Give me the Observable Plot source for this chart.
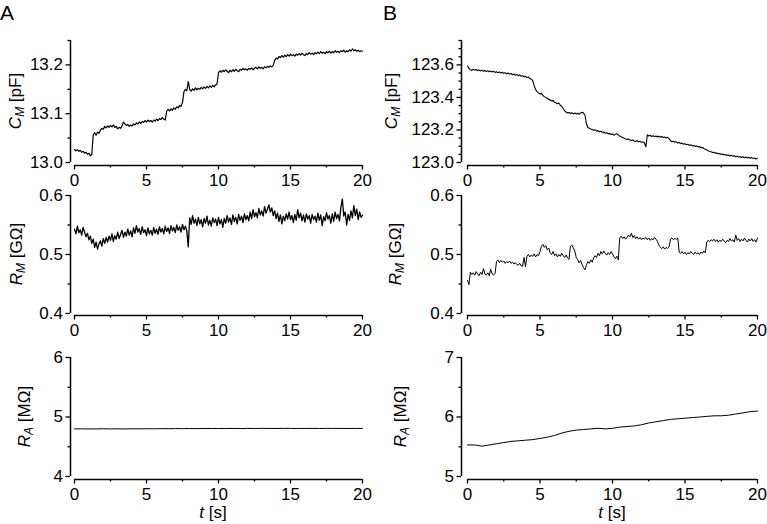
<!DOCTYPE html>
<html><head><meta charset="utf-8">
<script src="https://cdn.jsdelivr.net/npm/d3@7"></script>
<script src="https://cdn.jsdelivr.net/npm/@observablehq/plot@0.6"></script>
<style>
body{margin:0;background:#fff;font-family:"Liberation Sans",Arial,sans-serif;}
#fig{position:relative;width:767px;height:524px;overflow:hidden;background:#fff;}
#fig svg{position:absolute;overflow:visible;}
</style></head><body><div id="fig"></div>
<script>
// sampling intervals (s)
const dtFine = 0.1, dtCoarse = 0.5;

// Panel A – membrane capacitance C_M [pF]
const cmA = [13.027,13.024,13.026,13.023,13.025,13.021,13.023,13.019,13.021,13.017,13.019,13.014,13.016,13.057,13.061,13.056,13.062,13.060,13.066,13.070,
13.068,13.074,13.071,13.075,13.072,13.076,13.073,13.077,13.072,13.074,13.069,13.072,13.070,13.075,13.083,13.079,13.076,13.078,13.074,13.077,
13.075,13.079,13.077,13.081,13.079,13.083,13.080,13.084,13.082,13.086,13.083,13.087,13.084,13.086,13.083,13.087,13.085,13.089,13.086,13.090,
13.088,13.092,13.089,13.087,13.105,13.109,13.106,13.110,13.107,13.112,13.109,13.114,13.112,13.117,13.115,13.123,13.145,13.150,13.147,13.166,
13.150,13.146,13.151,13.148,13.153,13.149,13.152,13.150,13.154,13.151,13.155,13.152,13.156,13.153,13.157,13.154,13.158,13.155,13.159,13.161,
13.184,13.188,13.185,13.189,13.186,13.190,13.187,13.184,13.189,13.186,13.190,13.187,13.191,13.188,13.186,13.191,13.189,13.193,13.190,13.192,
13.189,13.193,13.191,13.194,13.190,13.193,13.195,13.192,13.196,13.193,13.195,13.192,13.196,13.194,13.197,13.195,13.198,13.196,13.199,13.209,
13.214,13.212,13.217,13.215,13.219,13.216,13.220,13.217,13.221,13.218,13.222,13.219,13.221,13.218,13.222,13.220,13.223,13.220,13.224,13.221,
13.219,13.223,13.221,13.225,13.222,13.224,13.221,13.225,13.223,13.226,13.223,13.227,13.224,13.226,13.223,13.227,13.225,13.228,13.224,13.227,
13.225,13.229,13.226,13.228,13.225,13.229,13.227,13.230,13.226,13.229,13.227,13.231,13.228,13.233,13.229,13.231,13.228,13.230,13.227,13.229,
13.228];

// Panel B – membrane capacitance C_M [pF]
const cmB = [123.594,123.578,123.571,123.566,123.573,123.568,123.572,123.565,123.569,123.563,123.568,123.561,123.566,123.559,123.564,123.558,123.562,123.556,123.561,123.554,
123.558,123.552,123.557,123.550,123.555,123.548,123.552,123.545,123.550,123.543,123.547,123.540,123.544,123.537,123.541,123.534,123.538,123.530,123.534,123.526,
123.530,123.522,123.525,123.516,123.512,123.503,123.472,123.448,123.436,123.428,123.421,123.425,123.412,123.405,123.399,123.395,123.388,123.385,123.378,123.382,
123.370,123.367,123.361,123.366,123.352,123.345,123.332,123.318,123.310,123.304,123.308,123.301,123.306,123.299,123.304,123.298,123.303,123.297,123.305,123.309,
123.304,123.292,123.238,123.215,123.211,123.206,123.203,123.198,123.201,123.193,123.196,123.189,123.192,123.185,123.188,123.180,123.183,123.176,123.179,123.172,
123.175,123.168,123.173,123.177,123.170,123.163,123.158,123.153,123.149,123.144,123.141,123.145,123.138,123.135,123.139,123.132,123.130,123.134,123.127,123.131,
123.124,123.127,123.120,123.096,123.170,123.163,123.167,123.160,123.165,123.159,123.163,123.157,123.162,123.155,123.160,123.154,123.157,123.151,123.155,123.147,
123.134,123.128,123.131,123.124,123.127,123.120,123.123,123.116,123.119,123.112,123.115,123.109,123.112,123.105,123.109,123.102,123.105,123.099,123.102,123.096,
123.098,123.091,123.093,123.086,123.082,123.077,123.073,123.068,123.066,123.061,123.063,123.057,123.059,123.053,123.055,123.049,123.052,123.046,123.049,123.043,
123.046,123.040,123.044,123.038,123.041,123.035,123.039,123.033,123.037,123.031,123.035,123.029,123.034,123.028,123.032,123.026,123.030,123.024,123.028,123.022,
123.026];

// Panel A – membrane resistance R_M [GΩ]
const rmA = [0.543,0.535,0.548,0.537,0.542,0.533,0.546,0.538,0.530,0.536,0.525,0.531,0.519,0.526,0.512,0.521,0.509,0.518,0.523,0.514,
0.527,0.519,0.529,0.521,0.531,0.524,0.535,0.522,0.532,0.526,0.538,0.527,0.534,0.541,0.529,0.538,0.531,0.543,0.533,0.540,
0.530,0.545,0.536,0.549,0.538,0.544,0.534,0.547,0.537,0.542,0.532,0.545,0.535,0.541,0.533,0.546,0.536,0.543,0.534,0.547,
0.538,0.544,0.535,0.548,0.539,0.545,0.536,0.549,0.540,0.546,0.537,0.550,0.541,0.547,0.538,0.551,0.542,0.548,0.540,0.513,
0.562,0.551,0.566,0.553,0.560,0.549,0.563,0.552,0.559,0.547,0.561,0.553,0.565,0.550,0.558,0.548,0.562,0.554,0.560,0.549,
0.563,0.552,0.559,0.546,0.561,0.553,0.566,0.555,0.562,0.551,0.567,0.556,0.563,0.552,0.568,0.558,0.565,0.554,0.569,0.559,
0.566,0.557,0.572,0.561,0.576,0.564,0.571,0.562,0.578,0.567,0.574,0.565,0.581,0.570,0.577,0.584,0.572,0.579,0.566,0.574,
0.561,0.570,0.556,0.567,0.552,0.565,0.557,0.569,0.560,0.572,0.559,0.566,0.554,0.568,0.558,0.576,0.562,0.570,0.557,0.567,
0.555,0.569,0.560,0.566,0.553,0.568,0.559,0.565,0.555,0.570,0.558,0.567,0.549,0.564,0.557,0.571,0.560,0.566,0.553,0.569,
0.556,0.572,0.561,0.568,0.557,0.580,0.594,0.565,0.572,0.550,0.568,0.558,0.574,0.562,0.583,0.566,0.577,0.559,0.572,0.563,
0.567];

// Panel B – membrane resistance R_M [GΩ]
const rmB = [0.456,0.449,0.470,0.466,0.469,0.465,0.471,0.467,0.464,0.470,0.466,0.476,0.467,0.465,0.469,0.464,0.475,0.467,0.465,0.468,
0.488,0.491,0.486,0.490,0.487,0.489,0.485,0.488,0.486,0.489,0.485,0.487,0.484,0.486,0.483,0.482,0.485,0.481,0.480,0.495,
0.479,0.497,0.500,0.496,0.499,0.497,0.501,0.496,0.500,0.498,0.505,0.514,0.517,0.512,0.515,0.508,0.511,0.503,0.500,0.505,
0.498,0.501,0.496,0.500,0.497,0.502,0.498,0.495,0.499,0.494,0.492,0.514,0.516,0.511,0.506,0.495,0.491,0.486,0.490,0.483,
0.478,0.474,0.482,0.488,0.485,0.491,0.487,0.494,0.498,0.495,0.502,0.498,0.505,0.501,0.506,0.502,0.499,0.503,0.500,0.505,
0.501,0.496,0.493,0.497,0.491,0.528,0.531,0.527,0.530,0.526,0.529,0.533,0.530,0.536,0.529,0.532,0.527,0.530,0.526,0.529,
0.525,0.528,0.526,0.529,0.525,0.528,0.524,0.527,0.525,0.529,0.526,0.522,0.516,0.512,0.510,0.513,0.509,0.512,0.510,0.513,
0.526,0.528,0.525,0.527,0.526,0.528,0.504,0.502,0.505,0.501,0.504,0.500,0.503,0.501,0.505,0.502,0.500,0.504,0.501,0.503,
0.500,0.504,0.502,0.506,0.503,0.521,0.524,0.522,0.525,0.523,0.526,0.522,0.525,0.521,0.524,0.522,0.526,0.523,0.520,0.524,
0.522,0.527,0.523,0.525,0.521,0.533,0.524,0.527,0.522,0.526,0.523,0.528,0.524,0.521,0.526,0.523,0.527,0.522,0.525,0.521,
0.528];

// Panel A – access resistance R_A [MΩ]
const raA = [4.800,4.801,4.799,4.800,4.802,4.800,4.801,4.799,4.802,4.801,4.803,4.802,4.804,4.803,4.805,4.804,4.806,4.805,4.806,4.807,
4.806,4.808,4.807,4.806,4.808,4.807,4.809,4.808,4.807,4.809,4.808,4.807,4.808,4.809,4.807,4.808,4.809,4.808,4.807,4.808,4.808];

// Panel B – access resistance R_A [MΩ]
const raB = [5.53,5.53,5.51,5.53,5.55,5.57,5.59,5.60,5.61,5.62,5.64,5.66,5.69,5.73,5.76,5.78,5.79,5.80,5.81,5.80,
5.81,5.83,5.84,5.85,5.87,5.90,5.92,5.94,5.96,5.97,5.98,5.99,6.00,6.01,6.02,6.02,6.03,6.05,6.07,6.09,6.10];

// axis ticks
const xMajor = [0, 5, 10, 15, 20];
const xMinor = [2.5, 7.5, 12.5, 17.5];
const cmAMajor = [13.0, 13.1, 13.2], cmAMinor = [13.05, 13.15, 13.25];
const cmBMajor = [123.0, 123.2, 123.4, 123.6];
const cmBMinor = [123.05, 123.1, 123.15, 123.25, 123.3, 123.35, 123.45, 123.5, 123.55, 123.65, 123.7, 123.75];
const rmMajor = [0.4, 0.5, 0.6], rmMinor = [0.45, 0.55];
const raAMajor = [4, 5, 6], raAMinor = [4.5, 5.5];
const raBMajor = [5, 6, 7], raBMinor = [5.5, 6.5];

// layout
const cols = {
  A: {left: 0, width: 383, marginLeft: 70, insetLeft: 4, marginRight: 21},
  B: {left: 383, width: 384, marginLeft: 78, insetLeft: 6, marginRight: 10}
};
const rows = {
  top: {top: 0, height: 180, marginTop: 40, insetBottom: 3, marginBottom: 15},
  mid: {top: 180, height: 155, marginTop: 15, insetBottom: 2, marginBottom: 20},
  bot: {top: 335, height: 189, marginTop: 22, insetBottom: 3, marginBottom: 45}
};
const FONT = "'Liberation Sans', Arial, sans-serif";
const FS = 17;
const fig = document.getElementById("fig");

function panel(o) {
  const c = cols[o.col], r = rows[o.row];
  const data = o.values.map((v, i) => ({t: i * o.dt, v}));
  const svg = Plot.plot({
    width: c.width, height: r.height,
    marginLeft: c.marginLeft, marginRight: c.marginRight,
    marginTop: r.marginTop, marginBottom: r.marginBottom,
    insetLeft: c.insetLeft, insetBottom: r.insetBottom,
    x: {domain: [0, 20], axis: null},
    y: {domain: o.yDomain, axis: null},
    style: {fontFamily: FONT, fontSize: FS + "px", color: "black", background: "transparent", overflow: "visible"},
    marks: [
      Plot.axisX(xMajor, {tickSize: 4.5, tickPadding: 4, fontSize: FS, strokeWidth: 1.3, label: null}),
      Plot.axisX(xMinor, {tickSize: 2.5, tickFormat: () => "", strokeWidth: 1.3, label: null}),
      Plot.axisY(o.yMajor, {tickSize: 4.5, tickPadding: 3, fontSize: FS, strokeWidth: 1.3, tickFormat: d3.format(o.fmt), label: null}),
      Plot.axisY(o.yMinor, {tickSize: 2.5, tickFormat: () => "", strokeWidth: 1.3, label: null}),
      Plot.ruleX([{x: 0, y1: o.yDomain[0], y2: o.yDomain[1]}], {x: "x", y1: "y1", y2: "y2", dx: -c.insetLeft, stroke: "black", strokeWidth: 1.5}),
      Plot.ruleY([{y: o.yDomain[0], x1: 0, x2: 20}], {y: "y", x1: "x1", x2: "x2", dy: r.insetBottom, stroke: "black", strokeWidth: 1.5}),
      Plot.line(data, {x: "t", y: "v", stroke: "black", strokeWidth: o.lw})
    ]
  });
  svg.style.left = c.left + "px";
  svg.style.top = r.top + "px";
  const s = d3.select(svg);
  const cy = (r.marginTop + (r.height - r.marginBottom - r.insetBottom)) / 2;
  const t = s.append("text")
    .attr("transform", `translate(${o.labelX},${cy}) rotate(-90)`)
    .attr("text-anchor", "middle")
    .attr("font-family", FONT).attr("font-size", FS).attr("fill", "black");
  t.append("tspan").attr("font-style", "italic").text(o.sym);
  t.append("tspan").attr("font-style", "italic").attr("font-size", 12).attr("dy", 3).text(o.sub);
  t.append("tspan").attr("dy", -3).text(" " + o.unit);
  if (o.row === "bot") {
    const xl = s.append("text").attr("x", o.xLabelX).attr("y", 183)
      .attr("text-anchor", "middle").attr("font-family", FONT).attr("font-size", FS).attr("fill", "black");
    xl.append("tspan").attr("font-style", "italic").text("t");
    xl.append("tspan").text(" [s]");
  }
  if (o.letter) {
    s.append("text").attr("x", 0).attr("y", 20).attr("text-anchor", "start")
      .attr("font-family", FONT).attr("font-size", 21).attr("fill", "black").text(o.letter);
  }
  fig.appendChild(svg);
}

panel({col: "A", row: "top", values: cmA, dt: dtFine, lw: 1.2, yDomain: [13.0, 13.25], yMajor: cmAMajor, yMinor: cmAMinor, fmt: ".1f", sym: "C", sub: "M", unit: "[pF]", labelX: 21, letter: "A"});
panel({col: "A", row: "mid", values: rmA, dt: dtFine, lw: 1.3, yDomain: [0.4, 0.6], yMajor: rmMajor, yMinor: rmMinor, fmt: ".1f", sym: "R", sub: "M", unit: "[GΩ]", labelX: 22});
panel({col: "A", row: "bot", values: raA, dt: dtCoarse, lw: 1, yDomain: [4, 6], yMajor: raAMajor, yMinor: raAMinor, fmt: "d", sym: "R", sub: "A", unit: "[MΩ]", labelX: 30, xLabelX: 213});
panel({col: "B", row: "top", values: cmB, dt: dtFine, lw: 1.1, yDomain: [123.0, 123.75], yMajor: cmBMajor, yMinor: cmBMinor, fmt: ".1f", sym: "C", sub: "M", unit: "[pF]", labelX: 14, letter: "B"});
panel({col: "B", row: "mid", values: rmB, dt: dtFine, lw: 1, yDomain: [0.4, 0.6], yMajor: rmMajor, yMinor: rmMinor, fmt: ".1f", sym: "R", sub: "M", unit: "[GΩ]", labelX: 18});
panel({col: "B", row: "bot", values: raB, dt: dtCoarse, lw: 1, yDomain: [5, 7], yMajor: raBMajor, yMinor: raBMinor, fmt: "d", sym: "R", sub: "A", unit: "[MΩ]", labelX: 23, xLabelX: 229});
</script></body></html>
